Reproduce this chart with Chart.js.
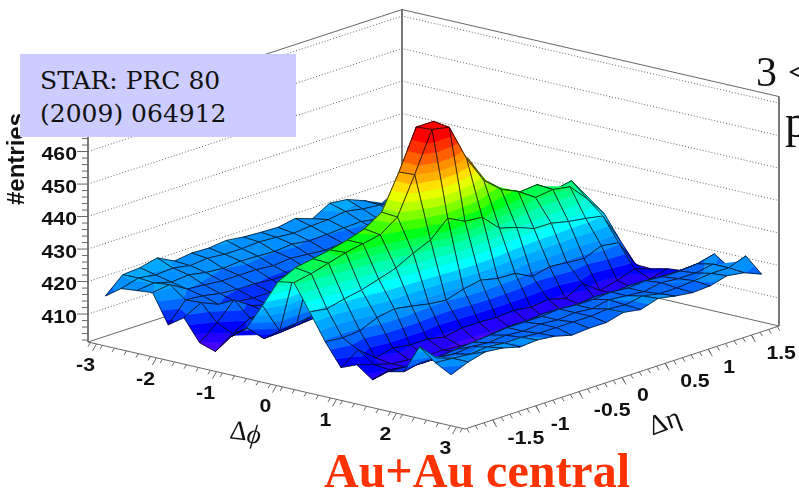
<!DOCTYPE html>
<html>
<head>
<meta charset="utf-8">
<style>
  html, body { margin: 0; padding: 0; background: #fff; width: 799px; height: 494px; overflow: hidden; }
  #wrap { position: relative; width: 799px; height: 494px; overflow: hidden; }
  #surfaceChart { position: absolute; left: 0; top: 0; }
  .note { position: absolute; white-space: pre; }
  #refBox { left: 20px; top: 54px; width: 276px; height: 83px; background: #ccccff; }
  #refText { left: 20px; top: 10px; font: 25px/33px "DejaVu Serif", serif; color: #111; }
  #title { left: 324px; top: 447px; font: bold 48px/48px "Liberation Serif", serif; color: #ff3300; }
  #trig { left: 756px; top: 48px; font: 42px/48px "Liberation Serif", serif; color: #111; }
  #assoc { left: 785px; top: 98px; font: 46px/48px "Liberation Serif", serif; color: #111; }
</style>
</head>
<body>
<div id="wrap">
  <canvas id="surfaceChart" width="799" height="494"></canvas>
  <div class="note" id="refBox"><div class="note" id="refText">STAR: PRC 80
(2009) 064912</div></div>
  <div class="note" id="title">Au+Au central</div>
  <div class="note" id="trig">3 &lt;</div>
  <div class="note" id="assoc">p</div>
</div>
<script src="https://cdn.jsdelivr.net/npm/chart.js@4"></script>
<script>
// ====================== Data ======================
const phiBins = [-2.88, -2.618, -2.356, -2.094, -1.833, -1.571, -1.309, -1.047, -0.785, -0.524, -0.262, 0,
  0.262, 0.524, 0.785, 1.047, 1.309, 1.571, 1.833, 2.094, 2.356, 2.618, 2.88];
const etaBins = [-1.8, -1.6, -1.4, -1.2, -1, -0.8, -0.6, -0.4, -0.2, 0, 0.2, 0.4, 0.6, 0.8, 1, 1.2, 1.4, 1.6, 1.8];

// one row per phi bin, eta going left to right
const entries = [
  [416.5, 421.3, 421.7, 423, 420.3, 421, 420.8, 421.4, 420.7, 420.4, 420.2, 421.2, 419.4, 422.4, 421.8, 419.7, 417, 420, 419],
  [419.9, 421.4, 420.6, 421, 420, 420.5, 420, 420, 420.3, 420, 419.5, 420, 420.2, 421, 420, 419.5, 418, 419, 419],
  [420.4, 421, 419.5, 420, 419, 418.5, 419, 418.8, 418.5, 419, 418.3, 418.5, 418.8, 419, 418, 418, 417.5, 418, 418],
  [420.9, 421.6, 418.5, 418, 417.5, 417.5, 417.5, 417, 417.5, 417, 416.5, 417, 417, 417.5, 416.5, 416.5, 416.5, 417, 417],
  [412.1, 418, 417.5, 416.5, 416, 416, 415.5, 415.5, 415.5, 415.5, 415, 415.5, 415.5, 415.5, 415, 415, 415, 416, 416],
  [415.4, 418.3, 416, 415, 414.5, 414.5, 414, 414, 413.5, 414, 413.5, 414, 414, 414, 414, 414, 414, 415, 415],
  [408.8, 413.2, 418.5, 415, 413.5, 413, 413, 412.5, 412.5, 412.5, 412.5, 413, 413, 413, 413, 413, 413, 414, 414],
  [407.2, 411, 414, 414, 413, 412.5, 412, 412, 412, 412, 412, 412.5, 412.5, 412.5, 412.5, 413, 413, 414, 414],
  [412.9, 413.9, 414, 414.5, 414, 414, 413.5, 413.5, 413.5, 413.5, 413.5, 414, 414, 414, 414, 414.5, 414.5, 415, 415],
  [416.8, 411.7, 412, 412.5, 413, 413, 413.5, 414, 415, 415, 415, 415, 415, 415, 415, 415, 415, 416, 416],
  [424.7, 415.2, 415.9, 416.6, 417, 418, 419, 423, 430, 434, 430, 425, 422, 420, 419, 419, 418, 418, 418],
  [433.2, 435.7, 436.7, 437.7, 439, 440.7, 444.1, 454.7, 466.8, 466.8, 458, 451.9, 443.4, 438.9, 436.4, 436.9, 433.6, 434.6, 427.6],
  [434, 435, 436.5, 438, 439, 440, 443.7, 455, 467.2, 466.1, 454.8, 446.3, 441.8, 439.4, 435.8, 436.5, 435.6, 430.2, 423.8],
  [426.1, 425.3, 426.6, 427.6, 429.2, 430.9, 433.7, 436, 441, 438.3, 437.8, 432.7, 431.2, 429.1, 429, 427.8, 427, 426, 416.7],
  [418, 417.5, 417.9, 420.2, 421.2, 420.3, 419.2, 418.6, 420.3, 421.3, 420.1, 419.9, 417.2, 418.5, 418, 417.5, 419.7, 418.9, 410.4],
  [411.2, 414.9, 410.7, 412, 411.2, 411.3, 410.1, 411.2, 411.2, 411, 411.4, 410.6, 411.3, 409.8, 412.7, 408.8, 410.1, 412, 410.2],
  [413.2, 411.5, 410, 409.5, 409, 409, 408.5, 408, 408, 408.5, 408.5, 408, 408.5, 409, 408, 409, 409, 410, 411.4],
  [409.7, 411, 410, 410, 409.5, 409.5, 410.5, 411, 411.5, 412, 411, 411.5, 412, 411.5, 412, 412, 412, 412, 411.9],
  [413.3, 413, 412.5, 412.5, 413, 413.5, 414.5, 415, 415, 415.5, 415, 415, 415.5, 415, 415.5, 415, 415, 415, 414.5],
  [414.4, 415.5, 415.5, 416, 416.5, 417, 417.5, 417.5, 417.5, 418, 417.5, 417.5, 418, 417.5, 418, 417.5, 417.5, 418, 419.3],
  [423.2, 418, 417.5, 418, 417.5, 418, 417.5, 418, 417.5, 418, 417.5, 418.5, 418, 417.5, 418.5, 418, 418, 419, 416],
  [419.4, 419, 418.5, 419, 418.5, 418.5, 418, 418, 418, 418, 418.5, 418, 419, 418, 418, 418.5, 419, 419, 420.9],
  [416.8, 419, 420.4, 419.8, 418.4, 418.8, 418.2, 416.8, 417.2, 417.2, 418.6, 417.7, 419.4, 418.4, 417.7, 418, 419.4, 418.6, 416.4]
];

const zTicks = [410, 420, 430, 440, 450, 460, 470];
const phiTicks = [-3, -2, -1, 0, 1, 2, 3];
const etaTicks = [-1.5, -1, -0.5, 0, 0.5, 1, 1.5];
const etaTickLabels = ["-1.5", "-1", "-0.5", "0", "0.5", "1", "1.5"];

// lower edge of each colour band and its colour
const bandEdges = [400, 406.5, 409, 411, 413.5, 416, 418.5, 421, 423.5, 426, 428.5, 431, 433.5, 435.5, 437.5,
  440, 442.5, 445, 447.5, 450, 452.5, 455, 457.5, 460.5, 463.5];
const bandColors = ["#6a00ff", "#4a00ff", "#2400ff", "#0000ff", "#0030ff", "#0068ff", "#0090ff", "#00a8ff", "#00c8ff",
  "#00ffff", "#00ffd8", "#00ffb0", "#00ff80", "#00ff50", "#00ff18", "#40ff00", "#80ff00", "#b8ff00", "#e8ff00",
  "#ffe000", "#ffb000", "#ff9000", "#ff6000", "#ff3000", "#ff0000"];

// ====================== Projection ======================
const PHI_MAX = Math.PI, ETA_MAX = 1.82, Z_FLOOR = 401.4, Z_TOP = 472;

function project(phi, eta, z) {
  const a = (phi + PHI_MAX) / (2 * PHI_MAX);
  const b = (eta + ETA_MAX) / (2 * ETA_MAX);
  return {
    x: 88 + 377 * a + 314 * b,
    y: 342 + 87 * a - 103 * b - 3.25 * (z - Z_FLOOR),
    z: z
  };
}

// keep the part of a polygon that lies on one side of a z level
function clipZ(poly, level, keepAbove) {
  const out = [];
  poly.forEach((p, k) => {
    const q = poly[(k + 1) % poly.length];
    const pIn = keepAbove ? p.z >= level : p.z <= level;
    const qIn = keepAbove ? q.z >= level : q.z <= level;
    if (pIn) out.push(p);
    if (pIn !== qIn) {
      const t = (level - p.z) / (q.z - p.z);
      out.push({ x: p.x + t * (q.x - p.x), y: p.y + t * (q.y - p.y), z: level });
    }
  });
  return out;
}

// ====================== Datasets (listed back to front) ======================
const backToFront = [];

function addLine(points, color, width, dash) {
  backToFront.push({
    data: points.map(p => ({ x: p.x, y: p.y })),
    showLine: true, fill: false, borderColor: color, borderWidth: width,
    borderDash: dash || [], pointRadius: 0, tension: 0
  });
}

function addPatch(poly, color) {
  const closed = poly.concat([poly[0]]);
  backToFront.push({
    data: closed.map(p => ({ x: p.x, y: p.y })),
    showLine: true, fill: "shape", backgroundColor: color, borderColor: color, borderWidth: 0.6,
    pointRadius: 0, tension: 0
  });
}

const wallColor = "#666666";
const phiLo = -PHI_MAX, phiHi = PHI_MAX, etaLo = -ETA_MAX, etaHi = ETA_MAX;

// dotted levels on the two back walls
zTicks.forEach(z => {
  addLine([project(phiLo, etaLo, z), project(phiLo, etaHi, z), project(phiHi, etaHi, z)], "#666666", 1, [1, 2]);
});

// box edges
addLine([project(phiLo, etaLo, Z_TOP), project(phiLo, etaHi, Z_TOP), project(phiHi, etaHi, Z_TOP), project(phiHi, etaHi, Z_FLOOR)], wallColor, 1);
addLine([project(phiLo, etaHi, Z_TOP), project(phiLo, etaHi, Z_FLOOR)], wallColor, 1);
addLine([project(phiLo, etaLo, Z_FLOOR), project(phiLo, etaHi, Z_FLOOR), project(phiHi, etaHi, Z_FLOOR)], wallColor, 1);
addLine([project(phiLo, etaLo, Z_TOP), project(phiLo, etaLo, Z_FLOOR), project(phiHi, etaLo, Z_FLOOR), project(phiHi, etaHi, Z_FLOOR)], wallColor, 1);

// axis ticks
function tickMark(base, dx, dy) {
  addLine([base, { x: base.x + dx, y: base.y + dy }], wallColor, 1);
}
for (let z = 402; z <= 472; z += 2) {
  tickMark(project(phiLo, etaLo, z), z % 10 === 0 ? -11 : -6, 0);
}
for (let k = -31; k <= 31; k += 2) {
  tickMark(project(k / 10, etaLo, Z_FLOOR), -2.5, 4);
}
phiTicks.forEach(p => tickMark(project(p, etaLo, Z_FLOOR), -4, 7));
for (let k = -18; k <= 18; k += 1) {
  tickMark(project(phiHi, k / 10, Z_FLOOR), 2.5, 4);
}
etaTicks.forEach(e => tickMark(project(phiHi, e, Z_FLOOR), 4, 7));

// surface cells: far phi first, far eta first
for (let i = 0; i < phiBins.length - 1; i++) {
  for (let j = etaBins.length - 2; j >= 0; j--) {
    const quad = [
      project(phiBins[i], etaBins[j], entries[i][j]),
      project(phiBins[i + 1], etaBins[j], entries[i + 1][j]),
      project(phiBins[i + 1], etaBins[j + 1], entries[i + 1][j + 1]),
      project(phiBins[i], etaBins[j + 1], entries[i][j + 1])
    ];
    bandEdges.forEach((edge, k) => {
      let poly = clipZ(quad, edge, true);
      if (k < bandEdges.length - 1 && poly.length) poly = clipZ(poly, bandEdges[k + 1], false);
      if (poly.length > 2) addPatch(poly, bandColors[k]);
    });
    addLine(quad.concat([quad[0]]), "rgba(0,0,0,0.85)", 0.8);
  }
}

// ====================== Axis text ======================
const axisText = {
  id: "axisText",
  afterDatasetsDraw(chart) {
    const { ctx, scales: { x, y } } = chart;
    const label = (text, px, py, align) => {
      ctx.save();
      ctx.translate(px, py);
      ctx.scale(1.18, 1);
      ctx.textAlign = align;
      ctx.textBaseline = "middle";
      ctx.fillText(text, 0, 0);
      ctx.restore();
    };
    ctx.save();
    ctx.fillStyle = "#111";
    ctx.font = 'bold 18px "Liberation Sans", sans-serif';
    zTicks.forEach(z => {
      const p = project(phiLo, etaLo, z);
      label(String(z), x.getPixelForValue(p.x) - 11, y.getPixelForValue(p.y) + 3.5, "right");
    });
    phiTicks.forEach(v => {
      const p = project(v, etaLo, Z_FLOOR);
      label(String(v), x.getPixelForValue(p.x) - 11, y.getPixelForValue(p.y) + 22, "center");
    });
    etaTicks.forEach((v, k) => {
      const p = project(phiHi, v, Z_FLOOR);
      label(etaTickLabels[k], x.getPixelForValue(p.x) + 15, y.getPixelForValue(p.y) + 19, "left");
    });

    ctx.save();
    ctx.translate(17, 159);
    ctx.rotate(-Math.PI / 2);
    ctx.font = 'bold 24px "Liberation Sans", sans-serif';
    ctx.textAlign = "center";
    ctx.textBaseline = "middle";
    ctx.fillText("#entries", 0, 0);
    ctx.restore();

    ctx.save();
    ctx.translate(245, 433);
    ctx.rotate(0.12);
    ctx.textBaseline = "middle";
    ctx.textAlign = "right";
    ctx.font = '27px "Liberation Serif", serif';
    ctx.fillText("\u0394", 2, 0);
    ctx.textAlign = "left";
    ctx.font = 'italic 27px "Liberation Serif", serif';
    ctx.fillText("\u03d5", 2, 2);
    ctx.restore();

    ctx.save();
    ctx.translate(665, 423);
    ctx.rotate(-0.35);
    ctx.font = '28px "Liberation Serif", serif';
    ctx.textAlign = "center";
    ctx.textBaseline = "middle";
    ctx.fillText("\u0394\u03b7", 0, 0);
    ctx.restore();
    ctx.restore();
  }
};

// ====================== Chart ======================
new Chart(document.getElementById("surfaceChart").getContext("2d"), {
  type: "scatter",
  data: { datasets: backToFront.slice().reverse() },
  plugins: [axisText],
  options: {
    responsive: false,
    animation: false,
    events: [],
    layout: { padding: 0 },
    plugins: { legend: { display: false }, tooltip: { enabled: false }, title: { display: false } },
    scales: {
      x: { type: "linear", display: false, min: 0, max: 799 },
      y: { type: "linear", display: false, min: 0, max: 494, reverse: true }
    }
  }
});
</script>
</body>
</html>
